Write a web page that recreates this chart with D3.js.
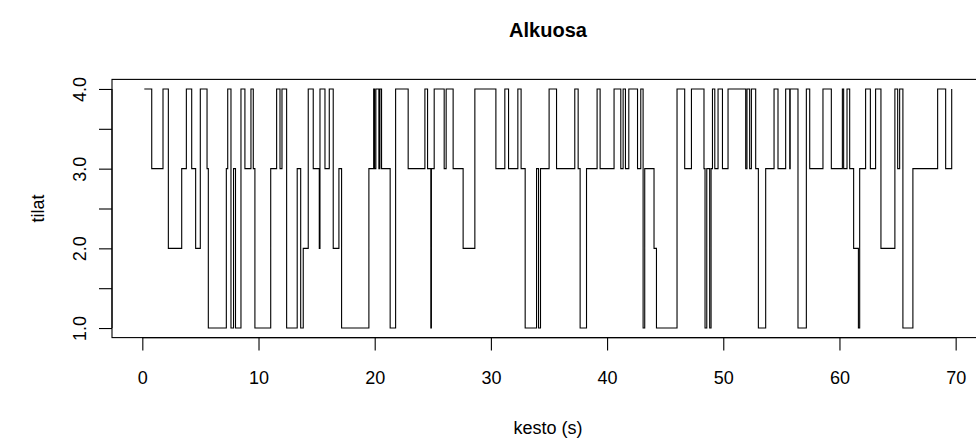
<!DOCTYPE html>
<html>
<head>
<meta charset="utf-8">
<script src="https://cdn.jsdelivr.net/npm/d3@7/dist/d3.min.js"></script>
<style>
  body { margin: 0; background: #fff; }
  svg text { font-family: "Liberation Sans", Arial, Helvetica, sans-serif; fill: #000; }
</style>
</head>
<body>
<svg id="chart" width="976" height="446"></svg>
<script>
// State changes: time (s) at which each state begins
const times = [
  0.17, 0.81, 1.78, 2.24, 3.39, 3.79, 4.25, 4.59, 4.99, 5.57,
  5.68, 7.23, 7.35, 7.63, 7.85, 8.02, 8.49, 8.83, 9.35, 9.55,
  9.69, 11.05, 11.56, 11.85, 12.02, 12.42, 13.33, 13.63, 13.85, 14.28,
  14.71, 15.23, 15.29, 15.72, 16.09, 16.43, 16.92, 17.15, 19.50, 19.91,
  19.99, 20.10, 20.36, 20.45, 20.59, 21.33, 21.80, 22.88, 24.32, 24.55,
  24.83, 24.88, 25.12, 25.98, 26.15, 26.75, 27.61, 28.62, 30.43, 31.20,
  31.52, 32.32, 32.60, 32.95, 33.93, 34.10, 34.27, 35.01, 35.65, 37.22,
  37.51, 37.68, 38.23, 39.14, 39.40, 40.60, 41.18, 41.38, 41.58, 41.87,
  42.62, 42.90, 43.10, 43.24, 44.04, 44.25, 46.02, 46.68, 47.26, 48.34,
  48.43, 48.58, 48.83, 48.95, 49.07, 49.27, 49.55, 49.93, 50.41, 51.93,
  52.04, 52.27, 52.42, 52.79, 53.02, 53.65, 54.37, 54.71, 55.37, 55.72,
  55.76, 56.43, 57.15, 57.44, 58.58, 59.30, 60.25, 60.36, 60.65, 60.88,
  61.22, 61.63, 61.74, 62.25, 62.66, 63.11, 63.57, 64.77, 65.01, 65.18,
  65.46, 66.32, 68.45, 69.14, 69.66
];
const states = [
  4, 3, 4, 2, 3, 4, 3, 2, 4, 3,
  1, 3, 4, 1, 3, 1, 4, 3, 4, 3,
  1, 3, 4, 3, 4, 1, 3, 1, 2, 4,
  3, 2, 4, 3, 4, 2, 3, 1, 3, 4,
  3, 4, 3, 4, 3, 1, 4, 3, 4, 3,
  1, 3, 4, 3, 4, 3, 2, 4, 3, 4,
  3, 4, 3, 1, 3, 1, 3, 4, 3, 4,
  3, 1, 3, 4, 3, 4, 3, 4, 3, 4,
  3, 4, 1, 3, 2, 1, 4, 3, 4, 3,
  1, 3, 1, 3, 4, 3, 4, 3, 4, 3,
  4, 3, 4, 3, 1, 3, 4, 3, 4, 3,
  4, 1, 4, 3, 4, 3, 4, 3, 4, 3,
  2, 1, 3, 4, 3, 4, 2, 4, 3, 4,
  1, 3, 4, 3, 4
];
const xTicks = [0, 10, 20, 30, 40, 50, 60, 70];
const yTicks = [1, 1.5, 2, 2.5, 3, 3.5, 4];
const yLabelled = [1, 2, 3, 4];

const titleText = "Alkuosa";
const xLabel = "kesto (s)";
const yLabel = "tilat";

const svg = d3.select("#chart");
const plot = { left: 112, right: 984, top: 79.4, bottom: 337.6 };

// axis limits padded by 4% on each side
const tExt = d3.extent(times);
const tPad = (tExt[1] - tExt[0]) * 0.04;
const sExt = d3.extent(states);
const sPad = (sExt[1] - sExt[0]) * 0.04;

const x = d3.scaleLinear()
  .domain([tExt[0] - tPad, tExt[1] + tPad])
  .range([plot.left, plot.right]);
const y = d3.scaleLinear()
  .domain([sExt[0] - sPad, sExt[1] + sPad])
  .range([plot.bottom, plot.top]);

const data = times.map((t, i) => ({ t, s: states[i] }));

// state trace
svg.append("path")
  .datum(data)
  .attr("fill", "none")
  .attr("stroke", "#000")
  .attr("stroke-width", 1.1)
  .attr("d", d3.line().x(d => x(d.t)).y(d => y(d.s)).curve(d3.curveStepAfter));

// frame
svg.append("rect")
  .attr("x", plot.left).attr("y", plot.top)
  .attr("width", plot.right - plot.left).attr("height", plot.bottom - plot.top)
  .attr("fill", "none").attr("stroke", "#000").attr("stroke-width", 1.1);

// x axis
const xAxis = d3.axisBottom(x).tickValues(xTicks).tickSize(13).tickPadding(21)
  .tickFormat(d3.format("d"));
const gx = svg.append("g").attr("transform", `translate(0,${plot.bottom})`).call(xAxis);
gx.select(".domain")
  .attr("d", `M${x(xTicks[0])},0H${x(xTicks[xTicks.length - 1])}`)
  .attr("stroke-width", 1.1);
gx.selectAll(".tick line").attr("stroke-width", 1.1);
gx.selectAll(".tick text").attr("font-size", 18).attr("font-family", "Liberation Sans, Arial, sans-serif");

// y axis
const yAxis = d3.axisLeft(y).tickValues(yTicks).tickSize(13).tickPadding(6)
  .tickFormat(d => yLabelled.includes(d) ? d3.format(".1f")(d) : "");
const gy = svg.append("g").attr("transform", `translate(${plot.left},0)`).call(yAxis);
gy.select(".domain")
  .attr("d", `M0,${y(yTicks[0])}V${y(yTicks[yTicks.length - 1])}`)
  .attr("stroke-width", 1.1);
gy.selectAll(".tick line").attr("stroke-width", 1.1);
gy.selectAll(".tick text")
  .attr("font-size", 18).attr("font-family", "Liberation Sans, Arial, sans-serif")
  .attr("text-anchor", "middle")
  .attr("dy", null)
  .attr("x", 0)
  .attr("transform", "translate(-32,0) rotate(-90)")
  .attr("y", 0)
  .attr("dominant-baseline", "central");

const cx = (plot.left + plot.right) / 2;

svg.append("text")
  .attr("x", cx).attr("y", 37)
  .attr("text-anchor", "middle")
  .attr("font-size", 20).attr("font-weight", "bold")
  .text(titleText);

svg.append("text")
  .attr("x", cx).attr("y", 434)
  .attr("text-anchor", "middle")
  .attr("font-size", 18)
  .text(xLabel);

svg.append("text")
  .attr("transform", `translate(44,${(plot.top + plot.bottom) / 2}) rotate(-90)`)
  .attr("text-anchor", "middle")
  .attr("font-size", 18)
  .text(yLabel);
</script>
</body>
</html>
